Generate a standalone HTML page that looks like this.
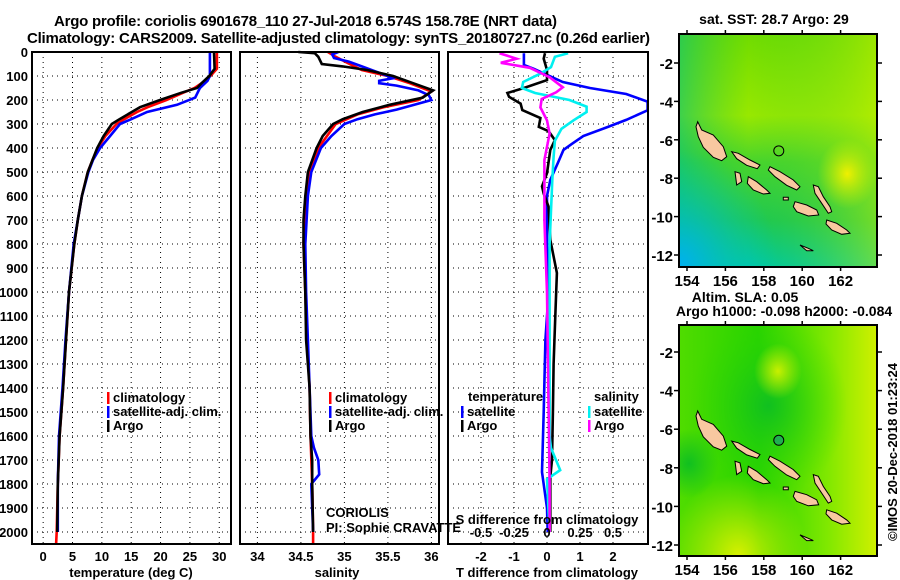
<!DOCTYPE html>
<html><head><meta charset="utf-8"><style>
html,body{margin:0;padding:0;background:#fff;}
svg{display:block;font-family:"Liberation Sans",Arial,sans-serif;}
.b{font-weight:bold;font-size:13px;}
</style></head><body>
<svg id="c" width="900" height="580" viewBox="0 0 900 580">
<defs>
<linearGradient id="sstV" x1="0" y1="0" x2="0" y2="1">
<stop offset="0" stop-color="#70dc00"/><stop offset="0.35" stop-color="#98e800"/><stop offset="0.55" stop-color="#48d42c"/><stop offset="0.8" stop-color="#20c850"/><stop offset="1" stop-color="#00c8a0"/>
</linearGradient>
<linearGradient id="sstH" x1="0" y1="0" x2="1" y2="0">
<stop offset="0" stop-color="#00c080" stop-opacity="0.6"/><stop offset="0.35" stop-color="#20c840" stop-opacity="0"/><stop offset="1" stop-color="#c8f000" stop-opacity="0.5"/>
</linearGradient>
<radialGradient id="sstBL" cx="0" cy="1" r="0.5"><stop offset="0" stop-color="#00b0f0"/><stop offset="1" stop-color="#00c8c0" stop-opacity="0"/></radialGradient>
<radialGradient id="sstY" cx="0.85" cy="0.6" r="0.15"><stop offset="0" stop-color="#f0f000"/><stop offset="1" stop-color="#c8f000" stop-opacity="0"/></radialGradient>
<linearGradient id="slaH" x1="0" y1="0" x2="1" y2="0">
<stop offset="0" stop-color="#50dc00"/><stop offset="0.4" stop-color="#28d400"/><stop offset="0.75" stop-color="#80e800"/><stop offset="1" stop-color="#d0f000"/>
</linearGradient>
<radialGradient id="slaG" cx="0.45" cy="0.35" r="0.4"><stop offset="0" stop-color="#10c020"/><stop offset="1" stop-color="#30d800" stop-opacity="0"/></radialGradient>
<radialGradient id="slaY1" cx="0.5" cy="0.2" r="0.12"><stop offset="0" stop-color="#c8f000"/><stop offset="1" stop-color="#c8f000" stop-opacity="0"/></radialGradient>
<radialGradient id="slaY2" cx="0.3" cy="1" r="0.35"><stop offset="0" stop-color="#d8f000"/><stop offset="1" stop-color="#d8f000" stop-opacity="0"/></radialGradient>
<radialGradient id="slaL" cx="0.05" cy="0.6" r="0.15"><stop offset="0" stop-color="#10c020"/><stop offset="1" stop-color="#10c020" stop-opacity="0"/></radialGradient>
</defs>
<g id="root"></g>
</svg>
<script>
// ---------- data ----------
const depthArgoT=[0,70,100,130,150,170,200,230,250,280,300,350,400,450,500,600,700,800,1000,1200,1400,1600,1800,2000];
const argoT=[29.1,29.2,28.3,27.0,26.2,23.5,19.9,16.5,15.1,13.0,11.7,10.3,9.2,8.4,7.6,6.6,5.9,5.3,4.4,3.9,3.4,2.8,2.5,2.4];
const depthClimT=[0,70,100,130,150,170,200,230,250,280,300,350,400,450,500,600,700,800,1000,1200,1400,1600,1800,2000,2050];
const climT=[29.6,29.6,28.5,27.0,25.8,23.8,21.0,17.8,16.0,13.8,12.5,10.6,9.3,8.4,7.6,6.6,5.9,5.3,4.4,3.9,3.4,2.8,2.5,2.3,2.2];
const depthSatT=[0,100,120,150,190,220,250,280,300,350,400,450,500,600,700,800,1000,1200,1400,1600,1800,2000];
const satT=[28.4,28.4,28.0,26.7,25.9,22.8,17.7,15.0,13.1,11.4,9.7,8.5,7.7,6.6,5.9,5.2,4.4,3.8,3.3,2.7,2.5,2.5];

const depthArgoS=[0,5,20,50,60,75,100,130,160,190,220,250,280,300,350,400,500,600,700,800,1000,1200,1400,1600,1700,1800,2000];
const argoS=[34.47,34.66,34.70,34.74,34.98,35.26,35.56,35.79,36.02,35.90,35.52,35.21,34.98,34.87,34.75,34.68,34.58,34.55,34.53,34.53,34.55,34.56,34.60,34.61,34.63,34.63,34.64];
const depthClimS=[0,20,50,75,100,130,165,200,230,260,300,400,500,600,700,800,1000,1200,1400,1600,1800,2000,2050];
const climS=[34.81,34.90,35.06,35.20,35.50,35.75,36.00,35.85,35.45,35.15,34.90,34.70,34.60,34.56,34.54,34.53,34.55,34.57,34.60,34.61,34.63,34.64,34.64];
const depthSatS=[0,10,25,40,60,80,100,110,120,130,140,160,180,200,215,240,260,280,300,350,400,500,600,800,1000,1200,1400,1600,1650,1700,1760,1800,2000];
const satS=[34.93,34.86,34.88,35.05,35.20,35.35,35.50,35.55,35.40,35.40,35.60,35.85,35.97,36.00,35.85,35.60,35.35,35.15,35.00,34.85,34.73,34.62,34.58,34.55,34.56,34.58,34.60,34.62,34.65,34.70,34.71,34.62,34.64];

const depthDT=[5,28,75,117,150,171,187,215,242,275,312,330,367,408,505,560,590,645,783,921,1100,1300,1500,1700,1770,1920,2000];
const argoDT=[-0.06,-0.1,0,0,-0.7,-1.2,-1.15,-0.8,-0.75,-0.2,-0.25,0.05,0.24,0.1,0,-0.15,-0.1,0.05,0.1,0.3,0.25,0.2,0.18,0.15,0.1,0.1,0.1];
const depthSDT=[5,54,70,125,150,175,207,243,283,312,350,383,408,462,533,600,800,1000,1200,1500,1750,1900,2000];
const satDT=[-0.7,-0.7,-0.4,0.48,1.3,2.4,3.05,3.05,2.4,1.85,1.1,0.75,0.5,0.33,0.1,0,0,0.05,-0.05,-0.1,-0.15,0,0.02];
const depthDS=[5,28,45,66,105,147,168,196,231,285,340,450,700,1000,1400,1800,2000];
const argoDS=[-0.36,-0.23,-0.35,-0.13,0.02,0.12,0.07,-0.04,-0.05,0,0.02,-0.02,-0.02,0,0.01,0.02,0.02];
const depthSDS=[5,20,63,90,125,150,171,200,228,250,285,320,370,437,533,800,1200,1600,1650,1742,1780,2000];
const satDS=[0.16,0.06,0.03,-0.05,-0.18,-0.19,-0.09,0.17,0.3,0.3,0.2,0.11,0.06,0.05,0.04,0.02,0.02,0.02,0.03,0.1,0,0.02];

const depthTicks=[0,100,200,300,400,500,600,700,800,900,1000,1100,1200,1300,1400,1500,1600,1700,1800,1900,2000];
const tTicks=[0,5,10,15,20,25,30];
const sTicks=[34,34.5,35,35.5,36];
const sTickLabels=["34","34.5","35","35.5","36"];
const dTTicks=[-2,-1,0,1,2];
const dSTicks=[-0.5,-0.25,0,0.25,0.5];
const dSTickLabels=["-0.5","-0.25","0","0.25","0.5"];
const latTicks=[-2,-4,-6,-8,-10,-12];
const lonTicks=[154,156,158,160,162];
const argoLon=158.78, argoLat=-6.574;

// ---------- helpers ----------
const NS="http://www.w3.org/2000/svg";
const root=document.getElementById('root');
function mk(tag,attrs,parent,text){const e=document.createElementNS(NS,tag);for(const k in attrs)e.setAttribute(k,attrs[k]);if(text!==undefined)e.textContent=text;(parent||root).appendChild(e);return e;}
const Y=d=>52+d*0.24;
const X1=v=>32+(v+1.9)*5.87;
const X2=v=>240+(v-33.8)*87;
const X3=v=>547+v*33;
const X3s=v=>547+v*132;
const BOT=544;

function panel(name){
  const g=mk('g',{});
  
  
  return g;
}
function grid(g,x0,x1,xs){
  depthTicks.forEach(d=>{ if(d>0){const l=mk('line',{x1:x0,x2:x1,y1:Y(d),y2:Y(d),stroke:'#000','stroke-width':1,'stroke-dasharray':'1,4'},g);
    
    }});
  xs.forEach(x=>{const l=mk('line',{x1:x,x2:x,y1:52,y2:BOT,stroke:'#000','stroke-width':1,'stroke-dasharray':'1,4'},g);
    
    });
}
function frame(g,x0,x1){const r=mk('rect',{x:x0,y:52,width:x1-x0,height:BOT-52,fill:'none',stroke:'#000','stroke-width':2},g);
  
  }
function line(g,xs,ds,fx,col,name,w){
  const pts=xs.map((v,i)=>fx(v).toFixed(1)+','+Y(ds[i]).toFixed(1)).join(' ');
  const p=mk('polyline',{points:pts,fill:'none',stroke:col,'stroke-width':w||2.6,'stroke-linejoin':'miter'},g);
  
  
}
function txt(g,x,y,s,cls,anchor,name,extra){
  const t=mk('text',Object.assign({x:x,y:y,'text-anchor':anchor||'middle',class:cls||'b'},extra||{}),g,s);
  
  
  return t;
}
function legend(g,x,y,items){
  items.forEach((it,i)=>{
    const r=mk('rect',{x:x,y:y+i*14-9,width:2.5,height:12,fill:it[1]},g);
    
    
    txt(g,x+6,y+i*14+1,it[0],'b','start','legend-entry');
  });
}

// ---------- titles ----------
txt(root,54,26,'Argo profile: coriolis 6901678_110 27-Jul-2018 6.574S 158.78E (NRT data)','b','start','title-line-1',{textLength:503,style:'font-size:15px'});
txt(root,27,43,'Climatology: CARS2009. Satellite-adjusted climatology: synTS_20180727.nc (0.26d earlier)','b','start','title-line-2',{textLength:623,style:'font-size:15px'});

// ---------- panel 1 ----------
let g=panel('temperature-panel');
grid(g,32,231,tTicks.map(X1));
line(g,climT,depthClimT,X1,'#ff0000','climatology-temperature-line');
line(g,satT,depthSatT,X1,'#0000ff','satellite-temperature-line');
line(g,argoT,depthArgoT,X1,'#000000','argo-temperature-line');
frame(g,32,231);
depthTicks.forEach(d=>txt(g,28,Y(d)+5,String(d),'b','end','y-tick-label'));
tTicks.forEach(v=>txt(g,X1(v),561,String(v),'b','middle','x-tick-label'));
txt(g,131,577,'temperature (deg C)','b','middle','x-axis-title');
legend(g,107,401,[['climatology','#ff0000'],['satellite-adj. clim.','#0000ff'],['Argo','#000']]);

// ---------- panel 2 ----------
g=panel('salinity-panel');
grid(g,240,439,sTicks.map(X2));
line(g,climS,depthClimS,X2,'#ff0000','climatology-salinity-line');
line(g,satS,depthSatS,X2,'#0000ff','satellite-salinity-line');
line(g,argoS,depthArgoS,X2,'#000000','argo-salinity-line');
frame(g,240,439);
sTicks.forEach((v,i)=>txt(g,X2(v),561,sTickLabels[i],'b','middle','x-tick-label'));
txt(g,337,577,'salinity','b','middle','x-axis-title');
legend(g,329,401,[['climatology','#ff0000'],['satellite-adj. clim.','#0000ff'],['Argo','#000']]);
txt(g,326,517,'CORIOLIS','','start','data-centre-label',{style:'font-size:13px'});
txt(g,326,532,'PI: Sophie CRAVATTE','','start','pi-label',{style:'font-size:13px'});

// ---------- panel 3 ----------
g=panel('difference-panel');
grid(g,448,648,dTTicks.map(X3));
line(g,satDT,depthSDT,X3,'#0000ff','satellite-t-diff-line');
line(g,argoDT,depthDT,X3,'#000000','argo-t-diff-line');
line(g,satDS,depthSDS,X3s,'#00f0f0','satellite-s-diff-line');
line(g,argoDS,depthDS,X3s,'#ff00ff','argo-s-diff-line');
frame(g,448,648);
dTTicks.forEach(v=>txt(g,X3(v),561,String(v),'b','middle','x-tick-label'));
dSTicks.forEach((v,i)=>txt(g,X3s(v),537,dSTickLabels[i],'b','middle','s-tick-label'));
txt(g,547,524,'S difference from climatology','b','middle','s-axis-title');
txt(g,547,577,'T difference from climatology','b','middle','x-axis-title');
txt(g,468,401,'temperature','b','start','legend-heading');
legend(g,461,415,[['satellite','#0000ff'],['Argo','#000']]);
txt(g,594,401,'salinity','b','start','legend-heading');
legend(g,588,415,[['satellite','#00f0f0'],['Argo','#ff00ff']]);

// ---------- maps ----------
const LX=lon=>687+(lon-154)*19.2;
const islandsZ=[
 [[113,365],[125,390],[160,405],[190,440],[200,470],[185,482],[160,472],[130,442],[115,410],[108,380]],
 [[215,455],[235,460],[270,480],[300,495],[292,506],[260,496],[230,476]],
 [[330,500],[360,515],[400,540],[420,560],[410,570],[380,556],[345,530],[325,510]],
 [[225,515],[240,520],[245,545],[230,555]],
 [[265,530],[290,545],[320,570],[330,580],[310,582],[280,570],[262,550]],
 [[405,605],[440,615],[470,630],[476,645],[445,648],[410,635],[400,620]],
 [[460,555],[475,560],[490,590],[510,620],[515,635],[505,640],[485,610],[465,580]],
 [[500,660],[530,670],[560,690],[570,700],[545,703],[515,690],[498,672]],
 [[370,592],[385,592],[385,600],[370,600]],
 [[420,735],[445,745],[460,752],[440,752]]
];
const zlon=zx=>154+(660+zx/3-687)/19.2;
const zlat=zy=>-2-(zy/3-63)/19.2;
function map(name,top,bot,latY,bgIds,circFill){
  const mg=mk('g',{});
  
  
  const cp=mk('clipPath',{id:'cp'+top},mg); mk('rect',{x:679,y:top,width:198,height:bot-top},cp);
  const ig=mk('g',{'clip-path':'url(#cp'+top+')'},mg);
  bgIds.forEach(id=>{const r=mk('rect',{x:679,y:top,width:198,height:bot-top,fill:'url(#'+id+')'},ig);
    
    });
  islandsZ.forEach(poly=>{
    const pts=poly.map(p=>LX(zlon(p[0])).toFixed(1)+','+latY(zlat(p[1])).toFixed(1)).join(' ');
    const p=mk('polygon',{points:pts,fill:'#f8c8a0',stroke:'#000','stroke-width':1},ig);
    
    
  });
  const c=mk('circle',{cx:LX(argoLon),cy:latY(argoLat),r:5,fill:circFill,stroke:'#000','stroke-width':1},ig);
  
  
  const fr=mk('rect',{x:679,y:top,width:198,height:bot-top,fill:'none',stroke:'#000','stroke-width':2},mg);
  
  
  latTicks.forEach(l=>{const y=latY(l);
    mk('line',{x1:674,x2:679,y1:y,y2:y,stroke:'#000','stroke-width':1.5},mg);
    mk('line',{x1:877,x2:882,y1:y,y2:y,stroke:'#000','stroke-width':1.5},mg);
    txt(mg,673,y+6,String(l),'b','end','lat-tick-label',{style:'font-size:15px'});});
  lonTicks.forEach(l=>{const x=LX(l);
    mk('line',{x1:x,x2:x,y1:top-4,y2:top,stroke:'#000','stroke-width':1.5},mg);
    mk('line',{x1:x,x2:x,y1:bot,y2:bot+4,stroke:'#000','stroke-width':1.5},mg);
    txt(mg,x,bot+19,String(l),'b','middle','lon-tick-label',{style:'font-size:15px'});});
}
map('sst-map',34,267,lat=>63+(-2-lat)*19.2,['sstV','sstH','sstBL','sstY'],'none');
map('sla-map',325,556,lat=>352+(-2-lat)*19.3,['slaH','slaG','slaY1','slaY2','slaL'],'#20b050');
txt(root,774,24,'sat. SST: 28.7 Argo: 29','b','middle','sst-map-title',{style:'font-size:14px'});
txt(root,745,302,'Altim. SLA: 0.05','b','middle','sla-map-title',{style:'font-size:14px'});
txt(root,784,316,'Argo h1000: -0.098 h2000: -0.084','b','middle','sla-map-subtitle',{style:'font-size:14px'});
txt(root,0,0,'©IMOS 20-Dec-2018 01:23:24','','middle','timestamp-label',{transform:'translate(897,452) rotate(-90)',style:'font-size:13px'});
</script>
</body></html>
